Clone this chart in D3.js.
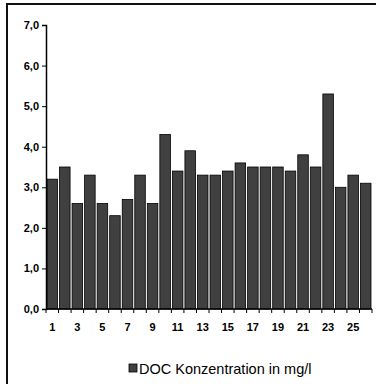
<!DOCTYPE html>
<html>
<head>
<meta charset="utf-8">
<script src="https://cdn.jsdelivr.net/npm/d3@7"></script>
<style>
  body { margin: 0; background: #fff; }
  text { font-family: "Liberation Sans", Arial, sans-serif; }
</style>
</head>
<body>
<svg width="376" height="384"></svg>
<script>
const svg = d3.select("svg"),
  width = +svg.attr("width"),
  height = +svg.attr("height");

// Data
const categories = d3.range(1, 27);
const docValues = [3.2, 3.5, 2.6, 3.3, 2.6, 2.3, 2.7, 3.3, 2.6, 4.3, 3.4, 3.9, 3.3,
  3.3, 3.4, 3.6, 3.5, 3.5, 3.5, 3.4, 3.8, 3.5, 5.3, 3.0, 3.3, 3.1];
const yTicks = [0, 1, 2, 3, 4, 5, 6, 7];
const seriesName = "DOC Konzentration in mg/l";

// Outer frame
svg.append("rect")
  .attr("x", 7).attr("y", 4)
  .attr("width", 390).attr("height", 400)
  .attr("fill", "none")
  .attr("stroke", "#111")
  .attr("stroke-width", 2);

// Scales
const x = d3.scaleBand()
  .domain(categories)
  .range([46, 372])
  .paddingInner(0.16)
  .paddingOuter(0.08);

const y = d3.scaleLinear()
  .domain([0, 7])
  .range([309, 25]);

// Bars
svg.append("g")
  .selectAll("rect")
  .data(docValues)
  .join("rect")
  .attr("x", (d, i) => x(categories[i]))
  .attr("y", d => y(d))
  .attr("width", x.bandwidth())
  .attr("height", d => y(0) - y(d))
  .attr("fill", "#404040")
  .attr("stroke", "#000")
  .attr("stroke-width", 0.8);

// Y axis
const yAxis = svg.append("g")
  .attr("transform", "translate(46,0)")
  .call(d3.axisLeft(y).tickValues(yTicks).tickSize(4).tickPadding(3)
    .tickFormat(d => d3.format(".1f")(d).replace(".", ",")));
yAxis.select(".domain").attr("stroke", "#000").attr("stroke-width", 1.5);
yAxis.selectAll("text")
  .attr("font-size", 11).attr("font-weight", "bold").attr("fill", "#000");

// X axis with ticks at band boundaries
const step = x.step();
const xAxisG = svg.append("g").attr("transform", `translate(0,${y(0)})`);
xAxisG.append("line")
  .attr("x1", 46).attr("x2", 372)
  .attr("stroke", "#000").attr("stroke-width", 1.5);
xAxisG.selectAll("line.tick")
  .data(d3.range(categories.length + 1))
  .join("line")
  .attr("class", "tick")
  .attr("x1", i => 46 + i * step).attr("x2", i => 46 + i * step)
  .attr("y1", 0).attr("y2", 4)
  .attr("stroke", "#000");
xAxisG.selectAll("text")
  .data(categories.filter(c => c % 2 === 1))
  .join("text")
  .attr("x", c => x(c) + x.bandwidth() / 2)
  .attr("y", 22)
  .attr("text-anchor", "middle")
  .attr("font-size", 11)
  .attr("font-weight", "bold")
  .text(c => c);

// Legend
const legend = svg.append("g").attr("transform", "translate(129,364)");
legend.append("rect")
  .attr("width", 8).attr("height", 8)
  .attr("fill", "#404040").attr("stroke", "#000").attr("stroke-width", 0.8);
legend.append("text")
  .attr("x", 10).attr("y", 10)
  .attr("font-size", 14.5)
  .text(seriesName);
</script>
</body>
</html>
